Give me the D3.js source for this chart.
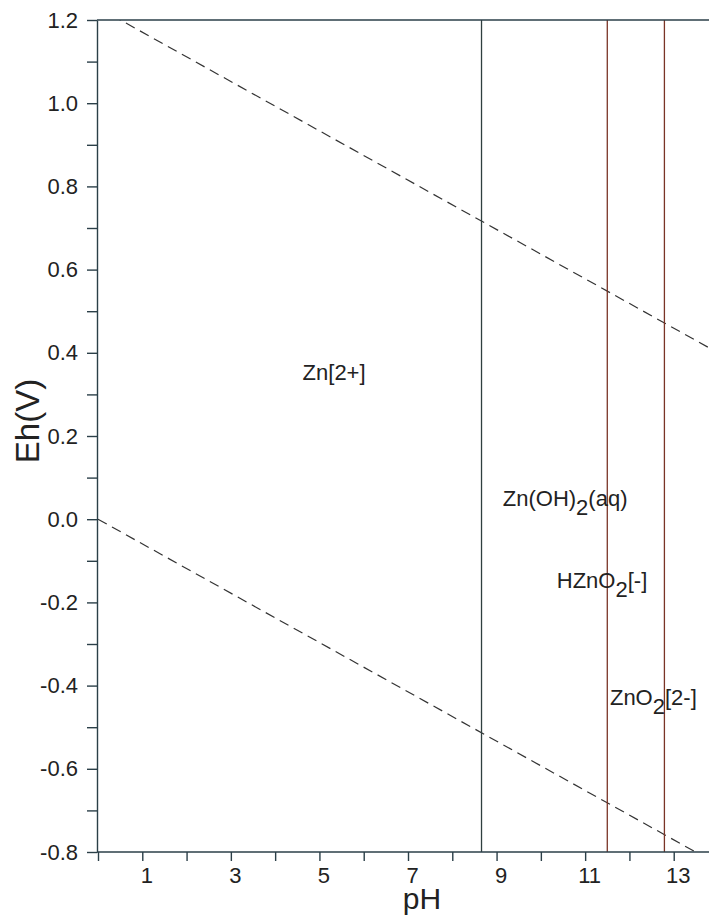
<!DOCTYPE html>
<html>
<head>
<meta charset="utf-8">
<script src="https://cdn.jsdelivr.net/npm/d3@7"></script>
<style>
  body { margin: 0; background: #fff; }
  text { font-family: "Liberation Sans", Arial, sans-serif; }
</style>
</head>
<body>
<script>
// Axis ticks
var xTicks = [0, 1, 2, 3, 4, 5, 6, 7, 8, 9, 10, 11, 12, 13, 14]
var xTickLabels = [1, 3, 5, 7, 9, 11, 13]
var yTicks = [-0.8, -0.7, -0.6, -0.5, -0.4, -0.3, -0.2, -0.1, 0.0, 0.1, 0.2, 0.3, 0.4, 0.5, 0.6, 0.7, 0.8, 0.9, 1.0, 1.1, 1.2]
var yTickLabels = [-0.8, -0.6, -0.4, -0.2, 0.0, 0.2, 0.4, 0.6, 0.8, 1.0, 1.2]

// Water stability lines (pH, Eh)
var upperWater = [[0, 1.23], [14, 0.40]]
var lowerWater = [[0, 0.0], [14, -0.83]]

// Vertical boundaries (pH)
var boundaries = [8.66, 11.5, 12.79]
var boundaryColors = ["#2f3f3f", "#7a3426", "#7a3426"]

// Species labels: text, subscript, rest, pH, Eh (left / baseline)
var species = [
  {pre: "Zn[2+]", sub: "", post: "", pH: 4.62, Eh: 0.335},
  {pre: "Zn(OH)", sub: "2", post: "(aq)", pH: 9.14, Eh: 0.032},
  {pre: "HZnO", sub: "2", post: "[-]", pH: 10.36, Eh: -0.165},
  {pre: "ZnO", sub: "2", post: "[2-]", pH: 11.56, Eh: -0.447}
]

var svgW = 709
var svgH = 917
var axisColor = "#2b3f48"

var xScale = d3.scaleLinear().domain([0, 14]).range([98, 718])
var yScale = d3.scaleLinear().domain([-0.8, 1.2]).range([852, 20])
var left = 97

var svg = d3.select("body").append("svg")
  .attr("width", svgW)
  .attr("height", svgH)

svg.append("defs").append("clipPath").attr("id", "plot")
  .append("rect")
  .attr("x", left).attr("y", yScale(1.2))
  .attr("width", svgW - left).attr("height", yScale(-0.8) - yScale(1.2))

var plot = svg.append("g").attr("clip-path", "url(#plot)")

// Dashed water lines
var line = d3.line()
  .x(function(d) { return xScale(d[0]) })
  .y(function(d) { return yScale(d[1]) })

;[upperWater, lowerWater].forEach(function(pts) {
  plot.append("path")
    .attr("d", line(pts))
    .attr("fill", "none")
    .attr("stroke", "#333")
    .attr("stroke-width", 1.2)
    .attr("stroke-dasharray", "10,6")
})

// Vertical boundaries
plot.selectAll(".boundary")
  .data(boundaries)
  .enter()
  .append("line")
    .attr("x1", function(d) { return xScale(d) })
    .attr("x2", function(d) { return xScale(d) })
    .attr("y1", yScale(1.2))
    .attr("y2", yScale(-0.8))
    .attr("stroke", function(d, i) { return boundaryColors[i] })
    .attr("stroke-width", 1.3)

// Top frame line
svg.append("line")
  .attr("x1", left).attr("x2", svgW)
  .attr("y1", yScale(1.2)).attr("y2", yScale(1.2))
  .attr("stroke", axisColor).attr("stroke-width", 1.4)

// X axis
var xAxis = d3.axisBottom(xScale)
  .tickValues(xTicks)
  .tickSize(9)
  .tickSizeOuter(0)
  .tickFormat(function(d) { return xTickLabels.indexOf(d) >= 0 ? d : "" })
var gx = svg.append("g")
  .attr("transform", "translate(0," + yScale(-0.8) + ")")
  .call(xAxis)
gx.select(".domain").attr("d", "M" + left + ",0H" + svgW)
gx.selectAll("line, path").attr("stroke", axisColor).attr("stroke-width", 1.4)
gx.selectAll("text")
  .attr("fill", "#222")
  .style("font-size", "22px")
  .attr("y", 15)
  .attr("dx", 4)

// Y axis (plain hyphen for negatives, like the original)
var yAxis = d3.axisLeft(yScale)
  .tickValues(yTicks)
  .tickSize(10)
  .tickSizeOuter(0)
  .tickFormat(function(d) {
    var isLabel = yTickLabels.some(function(v) { return Math.abs(v - d) < 1e-9 })
    return isLabel ? d.toFixed(1) : ""
  })
var gy = svg.append("g")
  .attr("transform", "translate(" + left + ",0)")
  .call(yAxis)
gy.selectAll("line, path").attr("stroke", axisColor).attr("stroke-width", 1.4)
gy.selectAll("text")
  .attr("fill", "#222")
  .style("font-size", "22px")
  .attr("x", -19)

// Species labels
species.forEach(function(s) {
  var t = svg.append("text")
    .attr("x", xScale(s.pH))
    .attr("y", yScale(s.Eh))
    .attr("fill", "#222")
    .style("font-size", "22px")
  t.append("tspan").text(s.pre)
  if (s.sub) {
    t.append("tspan").attr("dy", 9).text(s.sub)
    t.append("tspan").attr("dy", -9).text(s.post)
  }
})

// Axis titles
svg.append("text")
  .attr("transform", "translate(39,421) rotate(-90)")
  .style("text-anchor", "middle")
  .style("font-size", "33px")
  .attr("fill", "#222")
  .text("Eh(V)")

svg.append("text")
  .attr("x", 422)
  .attr("y", 909)
  .style("text-anchor", "middle")
  .style("font-size", "30px")
  .attr("fill", "#222")
  .text("pH")
</script>
</body>
</html>
